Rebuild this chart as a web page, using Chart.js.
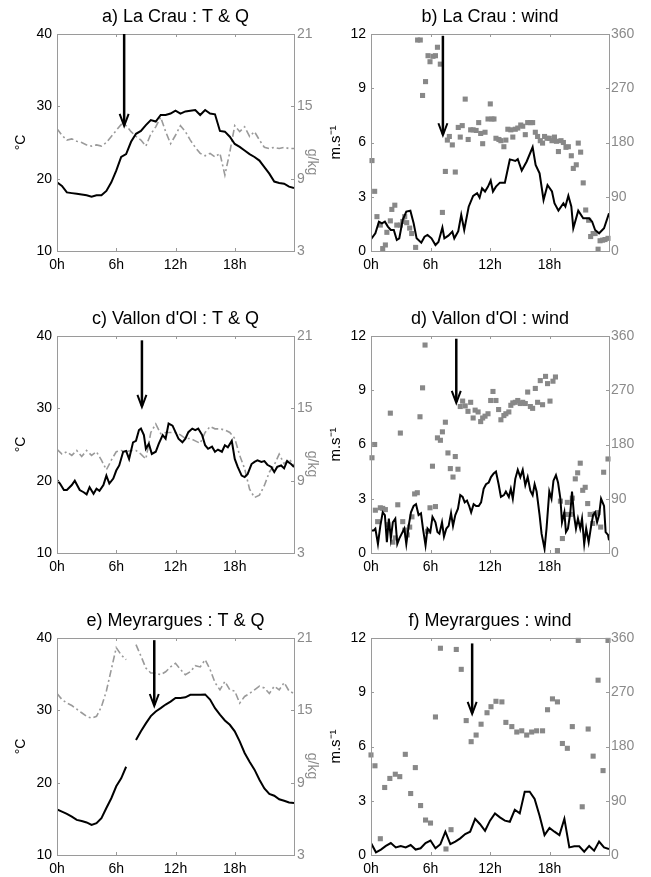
<!DOCTYPE html>
<html>
<head>
<meta charset="utf-8">
<script src="https://cdn.jsdelivr.net/npm/chart.js@4.4.1/dist/chart.umd.min.js"></script>
<style>
  body { margin: 0; background: #fff; width: 651px; height: 877px; position: relative; overflow: hidden; }
  canvas { position: absolute; }
</style>
</head>
<body>
<canvas id="pa" width="325" height="274" style="left:0;top:0"></canvas>
<canvas id="pb" width="326" height="274" style="left:325px;top:0"></canvas>
<canvas id="pc" width="325" height="274" style="left:0;top:302px"></canvas>
<canvas id="pd" width="326" height="274" style="left:325px;top:302px"></canvas>
<canvas id="pe" width="325" height="274" style="left:0;top:604px"></canvas>
<canvas id="pf" width="326" height="274" style="left:325px;top:604px"></canvas>
<script>
// half-hour grid used by the smoother series
const hours = [0, 0.5, 1, 1.5, 2, 2.5, 3, 3.5, 4, 4.5, 5, 5.5, 6, 6.5, 7, 7.5, 8, 8.5, 9, 9.5,
  10, 10.5, 11, 11.5, 12, 12.5, 13, 13.5, 14, 14.5, 15, 15.5, 16, 16.5, 17, 17.5, 18, 18.5, 19, 19.5,
  20, 20.5, 21, 21.5, 22, 22.5, 23, 23.5, 24];

// a) La Crau T (°C) and Q (g/kg)
const aTemp = [19.5, 19.0, 18.1, 18.0, 17.9, 17.8, 17.7, 17.5, 17.7, 17.7, 18.3, 19.5, 21.1, 23.0, 23.4, 25.1, 26.2, 26.6, 27.4, 28.1,
  27.9, 28.8, 28.8, 29.0, 29.4, 29.0, 29.3, 29.4, 29.5, 28.8, 29.5, 29.0, 28.9, 26.6, 26.5, 25.8, 24.8, 24.4, 23.9, 23.4,
  23.0, 22.5, 21.6, 20.7, 19.6, 19.4, 19.3, 18.9, 18.7];
const aHum = [13.15, 12.6, 12.2, 12.3, 12.1, 12.0, 11.8, 11.7, 11.8, 11.7, 12.0, 12.5, 13.0, 13.5, 13.4, 12.9, 12.5, 12.2, 11.7, 12.7,
  13.3, 14.1, 12.9, 11.9, 12.6, 13.4, 12.9, 12.2, 11.6, 11.1, 10.9, 11.1, 10.8, 11.1, 9.3, 11.2, 13.4, 12.9, 13.3, 12.5,
  12.9, 12.2, 11.6, 11.5, 11.6, 11.5, 11.6, 11.5, 11.5];

// b) La Crau wind speed (m/s) and direction (deg)
const bSpeedHours = [0, 0.44, 0.8, 1.1, 1.4, 1.7, 2.0, 2.3, 2.6, 2.85, 3.2, 3.56, 3.97, 4.3, 4.6, 5.07, 5.4, 5.7, 6.1, 6.5,
  6.8, 7.2, 7.4, 7.8, 8.2, 8.4, 8.8, 9.1, 9.4, 9.85, 10.3, 10.7, 10.95, 11.2, 11.5, 11.8, 12.07, 12.3, 12.6, 13.0,
  13.5, 14.0, 14.2, 14.55, 14.8, 15.2, 15.7, 16.3, 16.6, 17.0, 17.4, 17.8, 18.25, 18.5, 18.9, 19.4, 19.6, 19.9, 20.2, 20.4,
  20.9, 21.4, 22.0, 22.3, 22.6, 23.0, 23.5, 24];
const bSpeed = [0.65, 0.98, 1.62, 1.53, 1.62, 1.35, 1.16, 1.16, 0.61, 0.7, 1.72, 2.18, 2.23, 1.53, 0.7, 0.46, 0.79, 0.89, 0.7, 0.33,
  0.5, 1.3, 0.7, 0.85, 1.07, 0.7, 1.1, 2.0, 1.16, 2.45, 3.05, 3.2, 2.95, 3.47, 3.29, 3.56, 3.9, 3.29, 3.56, 3.78,
  3.78, 5.06, 5.04, 4.98, 5.08, 4.45, 4.95, 5.74, 4.76, 4.3, 2.82, 3.65, 3.29, 2.64, 2.23, 2.64, 2.46, 3.05, 2.46, 1.26,
  2.23, 1.81, 1.81, 1.62, 1.16, 0.98, 1.26, 2.09];
const bDirHours = [0.1, 0.37, 0.6, 0.94, 1.18, 1.45, 1.6, 1.95, 2.1, 2.4, 2.6, 2.96, 3.2, 3.4, 3.6, 3.9, 4.1, 4.5, 4.7, 4.97,
  5.2, 5.5, 5.75, 5.95, 6.25, 6.5, 6.7, 6.99, 7.2, 7.5, 7.7, 7.9, 8.2, 8.5, 8.8, 9.0, 9.2, 9.5, 9.8, 10.05,
  10.3, 10.6, 10.86, 11.06, 11.26, 11.5, 11.8, 12.03, 12.2, 12.4, 12.6, 12.9, 13.1, 13.4, 13.6, 13.8, 14.1, 14.3, 14.55, 14.8,
  15.1, 15.3, 15.56, 15.8, 16.07, 16.3, 16.57, 16.8, 17.07, 17.3, 17.5, 17.75, 17.98, 18.25, 18.5, 18.7, 18.9, 19.16, 19.4, 19.66,
  19.9, 20.2, 20.4, 20.7, 20.9, 21.14, 21.4, 21.65, 21.95, 22.15, 22.4, 22.6, 22.9, 23.1, 23.36, 23.6, 23.9];
const bDir = [150, 99, 57, 43, 4, 10, 31, 50, 69, 76, 43, 43, 49, 57, 47, 38, 29, 6, 350, 350,
  258, 281, 324, 314, 323, 324, 338, 310, 64, 132, 184, 190, 176, 131, 205, 189, 208, 252, 185, 201,
  201, 200, 213, 195, 178, 197, 219, 244, 219, 219, 187, 185, 183, 173, 184, 202, 201, 189, 202, 204,
  209, 207, 193, 213, 213, 213, 197, 190, 183, 179, 190, 187, 187, 183, 189, 182, 165, 183, 180, 172,
  173, 158, 137, 143, 179, 164, 113, 68, 51, 24, 29, 29, 3, 17, 18, 19, 21];

// c) Vallon d'Ol T and Q
const cTempHours = [0, 0.3, 0.7, 1, 1.5, 1.8, 2.3, 2.7, 3, 3.3, 3.7, 4, 4.3, 4.7, 5, 5.3, 5.7, 6, 6.3, 6.7,
  7, 7.3, 7.7, 8, 8.3, 8.5, 8.8, 9, 9.3, 9.6, 10, 10.3, 10.7, 11, 11.3, 11.7, 12, 12.3, 12.7, 13,
  13.3, 13.7, 14, 14.3, 14.7, 15, 15.3, 15.7, 16, 16.3, 16.7, 17, 17.3, 17.7, 18, 18.3, 18.7, 19, 19.3, 19.7,
  20, 20.3, 20.7, 21, 21.3, 21.7, 22, 22.3, 22.7, 23, 23.3, 23.7, 24];
const cTemp = [20.1, 19.6, 18.7, 18.7, 19.4, 20.0, 18.7, 18.4, 18.1, 19.1, 18.2, 18.9, 18.6, 19.4, 20.7, 19.6, 20.3, 21.4, 22.1, 24.0,
  24.1, 23.0, 25.3, 25.5, 27.0, 27.2, 26.3, 24.4, 25.1, 23.7, 24.0, 25.1, 26.3, 25.8, 27.9, 27.6, 26.7, 25.8, 25.3, 25.8,
  26.7, 27.2, 27.0, 27.2, 26.3, 24.9, 24.4, 24.7, 24.0, 24.3, 24.0, 24.9, 24.6, 25.5, 23.0, 21.9, 20.7, 20.5, 20.9, 22.3,
  22.6, 22.8, 22.6, 22.7, 22.2, 21.9, 21.2, 21.9, 22.1, 21.7, 22.7, 22.3, 21.9];
const cHum = [11.6, 11.2, 11.4, 11.1, 11.5, 11.0, 11.5, 11.1, 11.4, 10.7, 9.9, 10.7, 11.4, 11.5, 11.4, 11.5, 11.5, 11.2, 10.8, 13.0,
  13.7, 12.9, 13.0, 13.0, 13.0, 12.8, 12.5, 12.5, 12.3, 12.1, 13.0, 13.5, 13.3, 13.3, 13.2, 13.0, 12.5, 11.1, 10.0, 8.3,
  7.6, 7.8, 8.6, 9.7, 10.3, 11.2, 10.4, 10.8, 10.3];

// d) Vallon d'Ol wind
const dSpeedHours = [0, 0.27, 0.44, 0.7, 0.94, 1.18, 1.4, 1.6, 1.8, 2.0, 2.2, 2.45, 2.65, 2.85, 3.1, 3.36, 3.56, 3.8, 4.03, 4.3,
  4.54, 4.8, 5.04, 5.24, 5.5, 5.7, 5.98, 6.2, 6.5, 6.7, 6.9, 7.16, 7.36, 7.6, 7.83, 8.07, 8.27, 8.5, 8.77, 9.0,
  9.24, 9.45, 9.68, 9.9, 10.1, 10.35, 10.6, 10.86, 11.1, 11.36, 11.6, 11.87, 12.1, 12.37, 12.6, 12.87, 13.1, 13.4, 13.6, 13.9,
  14.1, 14.3, 14.55, 14.8, 15.06, 15.3, 15.56, 15.8, 16.07, 16.3, 16.5, 16.7, 17.0, 17.2, 17.5, 17.7, 17.98, 18.2, 18.4, 18.65,
  18.86, 19.1, 19.26, 19.5, 19.66, 19.86, 20.1, 20.27, 20.47, 20.67, 20.87, 21.1, 21.28, 21.5, 21.7, 21.95, 22.2, 22.4, 22.6, 22.8,
  23.0, 23.2, 23.5, 23.66, 23.9, 24];
const dSpeed = [1.25, 1.25, 1.35, 0.5, 1.5, 2.25, 2.1, 0.6, 1.9, 0.8, 1.7, 1.9, 0.5, 0.8, 1.07, 1.35, 0.5, 1.5, 2.25, 2.6,
  2.7, 2.1, 2.2, 1.35, 0.42, 1.35, 1.16, 2.0, 1.7, 1.16, 1.07, 1.7, 0.9, 1.35, 1.5, 2.2, 1.5, 2.1, 2.45, 3.2,
  3.1, 2.8, 2.9, 2.6, 2.25, 2.7, 2.6, 2.6, 2.8, 3.55, 3.8, 3.9, 4.2, 4.4, 4.5, 3.8, 3.1, 3.2, 3.4, 3.1,
  3.55, 3.0, 4.1, 4.6, 4.2, 4.6, 3.75, 4.2, 3.45, 3.2, 3.8, 3.4, 2.1, 1.07, 0.24, 1.35, 3.4, 3.0, 4.0, 4.3,
  3.9, 3.0, 1.7, 2.25, 1.16, 1.35, 2.25, 3.4, 2.1, 1.35, 1.9, 1.35, 1.9, 0.5, 1.35, 0.6, 1.5, 2.1, 2.25, 1.7,
  2.1, 3.0, 2.6, 1.16, 1.0, 0.7];
const dDirHours = [0.1, 0.37, 0.44, 0.67, 0.94, 1.18, 1.45, 1.7, 1.95, 2.2, 2.45, 2.7, 2.96, 3.2, 3.4, 3.66, 3.9, 4.13, 4.4, 4.67,
  4.94, 5.2, 5.45, 5.7, 5.95, 6.2, 6.5, 6.7, 7.0, 7.2, 7.5, 7.76, 8.0, 8.27, 8.5, 8.77, 9.0, 9.24, 9.5, 9.78,
  10.05, 10.3, 10.5, 10.8, 11.06, 11.26, 11.5, 11.8, 12.07, 12.3, 12.6, 12.87, 13.1, 13.4, 13.6, 13.9, 14.1, 14.3, 14.55, 14.8,
  15.06, 15.3, 15.56, 15.8, 16.07, 16.3, 16.57, 16.8, 17.07, 17.3, 17.6, 17.8, 18.05, 18.35, 18.6, 18.8, 19.1, 19.3, 19.6, 19.8,
  20.1, 20.3, 20.6, 20.84, 21.1, 21.35, 21.6, 21.85, 22.1, 22.35, 22.6, 22.9, 23.16, 23.46, 23.9];
const dDir = [158, 180, 71, 52, 75, 74, 72, 47, 232, 18, 25, 80, 199, 52, 38, 30, 43, 60, 98, 100,
  226, 274, 345, 36, 75, 144, 77, 191, 187, 201, 217, 166, 140, 126, 160, 139, 243, 252, 244, 235,
  250, 224, 237, 234, 218, 224, 227, 231, 253, 268, 253, 238, 221, 228, 231, 234, 245, 249, 250, 253,
  248, 250, 248, 267, 243, 240, 273, 250, 286, 246, 293, 281, 252, 285, 292, 4, 86, 24, 64, 84,
  64, 91, 123, 133, 149, 104, 109, 82, 64, 49, 65, 67, 43, 134, 156];

// e) Meyrargues T and Q (gap around 7h30)
const eTemp = [16.3, 16.0, 15.7, 15.3, 14.85, 14.7, 14.5, 14.15, 14.4, 15.1, 16.5, 17.85, 19.5, 20.6, 22.2, null, 25.9, 27.1, 28.2, 29.2,
  29.85, 30.3, 30.8, 31.2, 31.7, 31.7, 31.8, 32.15, 32.15, 32.15, 32.2, 31.5, 30.3, 29.4, 28.6, 28.0, 27.1, 25.7, 24.1, 22.9,
  21.8, 20.4, 19.2, 18.45, 18.2, 17.7, 17.5, 17.25, 17.2];
const eHum = [16.4, 15.9, 15.6, 15.4, 15.1, 14.8, 14.5, 14.35, 14.5, 15.3, 16.6, 18.4, 20.2, 19.6, 19.2, null, 20.45, 19.5, 18.5, 18.1,
  18.1, 17.95, 18.2, 18.6, 18.9, 18.4, 17.95, 18.2, 18.7, 18.6, 19.2, 18.4, 17.3, 16.7, 17.4, 16.7, 16.6, 15.6, 16.15, 16.4,
  16.7, 17.0, 16.85, 16.4, 17.0, 16.7, 17.3, 16.6, 16.4];

// f) Meyrargues wind
const fSpeed = [0.66, 0.15, 0.3, 0.5, 0.66, 0.42, 0.5, 0.42, 0.55, 0.3, 0.37, 0.66, 0.8, 0.37, 0.6, 1.29, 0.6, 0.74, 0.92, 1.16,
  1.29, 2.0, 1.7, 1.34, 1.9, 2.3, 2.08, 1.9, 1.84, 2.5, 2.3, 3.5, 3.5, 3.1, 2.17, 1.1, 1.5, 1.29, 1.1, 2.0,
  0.42, 0.48, 0.48, 0.18, 0.5, 0.24, 0.74, 0.42, 0.33];
const fDirHours = [0, 0.4, 0.94, 1.38, 1.9, 2.45, 2.9, 3.46, 4.0, 4.47, 5.0, 5.5, 6.0, 6.5, 7.0, 7.56, 8.07, 8.6, 9.1, 9.6,
  10.1, 10.6, 11.1, 11.7, 12.1, 12.6, 13.2, 13.6, 14.2, 14.7, 15.2, 15.7, 16.2, 16.7, 17.3, 17.8, 18.3, 18.8, 19.3, 19.8,
  20.3, 20.9, 21.3, 21.9, 22.4, 22.9, 23.4, 23.9];
const fDir = [166, 148, 27, 112, 127, 134, 130, 167, 102, 145, 82, 58, 53, 229, 343, 10, 42, 341, 308, 223,
  188, 199, 217, 236, 246, 255, 254, 220, 213, 204, 206, 199, 204, 206, 206, 241, 259, 254, 185, 177,
  213, 356, 80, 209, 164, 290, 140, 356];

// arrows: hour, start value (top) and tip value, on the left axis of each panel a..f
const arrowHours = [6.8, 7.25, 8.6, 8.6, 9.85, 10.2];
const arrowTops = [40, 11.9, 39.4, 11.85, 39.7, 11.7];
const arrowTips = [27.3, 6.4, 30.2, 8.3, 30.6, 7.8];

const FONT = "'Liberation Sans', Arial, Helvetica, sans-serif";
const FRAME = '#9a9a9a';
const GREY_TEXT = '#8a8a8a';

function xy(xs, ys) {
  return xs.map((x, i) => ({ x: x, y: ys[i] }));
}

// grey box + small inward ticks
const framePlugin = {
  id: 'frame',
  afterDatasetsDraw(chart) {
    const ctx = chart.ctx, a = chart.chartArea;
    ctx.save();
    ctx.strokeStyle = FRAME;
    ctx.lineWidth = 1;
    ctx.strokeRect(a.left + 0.5, a.top + 0.5, a.right - a.left, a.bottom - a.top);
    ctx.beginPath();
    chart.scales.x.ticks.forEach(t => {
      const px = Math.round(chart.scales.x.getPixelForValue(t.value)) + 0.5;
      ctx.moveTo(px, a.bottom); ctx.lineTo(px, a.bottom - 3);
      ctx.moveTo(px, a.top); ctx.lineTo(px, a.top + 3);
    });
    chart.scales.y.ticks.forEach(t => {
      const py = Math.round(chart.scales.y.getPixelForValue(t.value)) + 0.5;
      ctx.moveTo(a.left, py); ctx.lineTo(a.left + 3, py);
    });
    chart.scales.y2.ticks.forEach(t => {
      const py = Math.round(chart.scales.y2.getPixelForValue(t.value)) + 0.5;
      ctx.moveTo(a.right, py); ctx.lineTo(a.right - 3, py);
    });
    ctx.stroke();
    ctx.restore();
  }
};

function arrowPlugin(i) {
  return {
    id: 'arrow',
    afterDraw(chart) {
      const ctx = chart.ctx;
      const x = chart.scales.x.getPixelForValue(arrowHours[i]);
      const y1 = chart.scales.y.getPixelForValue(arrowTops[i]);
      const y2 = chart.scales.y.getPixelForValue(arrowTips[i]);
      ctx.save();
      ctx.strokeStyle = '#000';
      ctx.lineWidth = 2.5;
      ctx.beginPath();
      ctx.moveTo(x, y1); ctx.lineTo(x, y2 - 1);
      ctx.stroke();
      ctx.lineWidth = 2;
      ctx.beginPath();
      ctx.moveTo(x - 4.5, y2 - 12); ctx.lineTo(x, y2); ctx.lineTo(x + 4.5, y2 - 12);
      ctx.stroke();
      ctx.restore();
    }
  };
}

function makePanel(id, i, title, leftCol, datasets) {
  const tickFont = { family: FONT, size: 14 };
  const yLeft = leftCol
    ? { min: 10, max: 40, step: 10, width: 57, title: '°C', pad: 13, size: 14 }
    : { min: 0, max: 12, step: 3, width: 46, title: 'm.s⁻¹', pad: 2, size: 15 };
  const yRight = leftCol
    ? { min: 3, max: 21, step: 6, width: 31, pad: 3 }
    : { min: 0, max: 360, step: 90, width: 42, pad: 2 };

  new Chart(document.getElementById(id), {
    type: 'line',
    data: { datasets: datasets },
    options: {
      responsive: false,
      animation: false,
      devicePixelRatio: 1,
      layout: { padding: 0 },
      plugins: {
        legend: { display: false },
        tooltip: { enabled: false },
        title: {
          display: true, text: title, fullSize: false, color: '#000',
          font: { family: FONT, size: 18, weight: 'normal' },
          padding: { top: 6.2, bottom: 6.2 }
        }
      },
      scales: {
        x: {
          type: 'linear', min: 0, max: 24,
          afterFit: s => { s.height = 23; },
          grid: { display: false, drawTicks: false },
          border: { display: false },
          ticks: {
            stepSize: 6, autoSkip: false, maxRotation: 0, padding: 6, color: '#000', font: tickFont,
            callback: v => (v < 24 ? v + 'h' : '')
          }
        },
        y: {
          type: 'linear', position: 'left', min: yLeft.min, max: yLeft.max,
          afterFit: s => { s.width = yLeft.width; },
          grid: { display: false, drawTicks: false },
          border: { display: false },
          ticks: { stepSize: yLeft.step, padding: 5, color: '#000', font: tickFont },
          title: {
            display: true, text: yLeft.title, color: '#000', font: { family: FONT, size: yLeft.size },
            padding: { top: yLeft.pad, bottom: 0 }
          }
        },
        y2: {
          type: 'linear', position: 'right', min: yRight.min, max: yRight.max,
          afterFit: s => { s.width = yRight.width; },
          grid: { display: false, drawTicks: false },
          border: { display: false },
          ticks: { stepSize: yRight.step, padding: yRight.pad, color: GREY_TEXT, font: tickFont },
          title: {
            display: leftCol, text: '          g/kg', color: GREY_TEXT, font: tickFont,
            padding: { top: 5, bottom: 0 }
          }
        }
      }
    },
    plugins: [framePlugin, arrowPlugin(i)]
  });
}

function tempLine(xs, ys) {
  return { data: xy(xs, ys), yAxisID: 'y', borderColor: '#000', borderWidth: 2, pointRadius: 0, tension: 0, spanGaps: false };
}
function humLine(xs, ys) {
  return { data: xy(xs, ys), yAxisID: 'y2', borderColor: '#9a9a9a', borderWidth: 1.6, borderDash: [7, 3, 2, 3],
    pointRadius: 0, tension: 0, spanGaps: false };
}
function dirPoints(xs, ys) {
  return { data: xy(xs, ys), yAxisID: 'y2', showLine: false, pointStyle: 'rect', pointRadius: 3.6,
    pointBackgroundColor: '#888', pointBorderWidth: 0, clip: false };
}

makePanel('pa', 0, 'a) La Crau : T & Q', true, [tempLine(hours, aTemp), humLine(hours, aHum)]);
makePanel('pb', 1, 'b) La Crau : wind', false, [tempLine(bSpeedHours, bSpeed), dirPoints(bDirHours, bDir)]);
makePanel('pc', 2, "c) Vallon d'Ol : T & Q", true, [tempLine(cTempHours, cTemp), humLine(hours, cHum)]);
makePanel('pd', 3, "d) Vallon d'Ol : wind", false, [tempLine(dSpeedHours, dSpeed), dirPoints(dDirHours, dDir)]);
makePanel('pe', 4, 'e) Meyrargues : T & Q', true, [tempLine(hours, eTemp), humLine(hours, eHum)]);
makePanel('pf', 5, 'f) Meyrargues : wind', false, [tempLine(hours, fSpeed), dirPoints(fDirHours, fDir)]);
</script>
</body>
</html>
